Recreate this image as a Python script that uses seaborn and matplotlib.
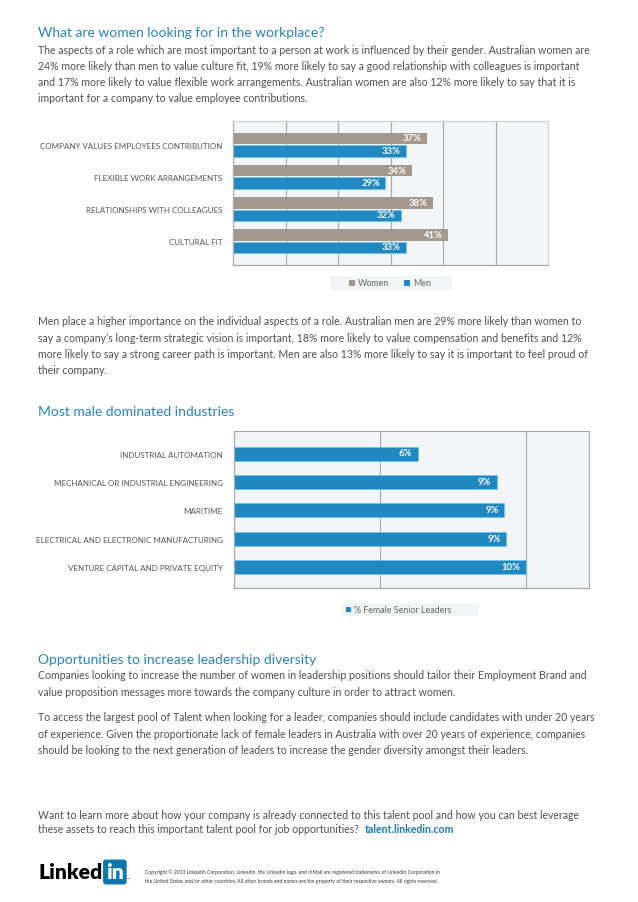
import matplotlib
matplotlib.use("Agg")
from matplotlib import pyplot as plt
from matplotlib.patches import Rectangle
import pandas as pd
import seaborn as sns

# chart 1: what women / men value at work
aspects = ["COMPANY VALUES EMPLOYEES CONTRIBUTION", "FLEXIBLE WORK ARRANGEMENTS",
           "RELATIONSHIPS WITH COLLEAGUES", "CULTURAL FIT"]
women = [37, 34, 38, 41]
men = [33, 29, 32, 33]
genders = ["Women", "Men"]

# chart 2: female senior leaders by industry
industries = ["INDUSTRIAL AUTOMATION", "MECHANICAL OR INDUSTRIAL ENGINEERING", "MARITIME",
              "ELECTRICAL AND ELECTRONIC MANUFACTURING", "VENTURE CAPITAL AND PRIVATE EQUITY"]
female_leaders = [6.3, 9.0, 9.25, 9.33, 10.0]
female_labels = ["6%", "9%", "9%", "9%", "10%"]

W, H = 638, 903
BLUE_TITLE = "#2a82b6"
TEXT = "#505050"
WOMEN_C = "#a2988e"
MEN_C = "#2188c2"
PANEL = "#f3f4f6"
GRID = "#a8a8a8"

sns.set_theme(style="white")
plt.rcParams["font.family"] = ["Lato", "DejaVu Sans"]

fig = plt.figure(figsize=(W / 100, H / 100), dpi=100)
fig.patch.set_facecolor("white")


def fx(x):
    return x / W


def fy(y):
    return 1 - y / H


def txt(x, y, s, size=7.6, color=TEXT, **kw):
    return fig.text(fx(x), fy(y), s, fontsize=size, color=color, va="center", **kw)


def para(x, y0, lines, step=16.3):
    for i, line in enumerate(lines):
        txt(x, y0 + i * step, line)


def axes_px(left, top, right, bottom):
    return fig.add_axes([fx(left), fy(bottom), (right - left) / W, (bottom - top) / H])


def style_panel(ax, xmax, ticks, top_c):
    ax.set_facecolor(PANEL)
    ax.set_xlim(0, xmax)
    ax.set_xticks(ticks)
    ax.set_xticklabels([])
    ax.xaxis.grid(True, color=GRID, lw=0.8)
    ax.yaxis.grid(False)
    ax.set_axisbelow(True)
    ax.set_xlabel("")
    ax.set_ylabel("")
    ax.tick_params(axis="y", length=0, pad=8, labelsize=5.8, labelcolor="#555555")
    ax.tick_params(axis="x", length=0)
    for side in ["left", "bottom"]:
        ax.spines[side].set_color(GRID)
        ax.spines[side].set_linewidth(0.9)
    for side in ["top", "right"]:
        ax.spines[side].set_color(top_c)
        ax.spines[side].set_linewidth(0.8)


def label_bars(ax, labels, dx=-4):
    for patch, lab in zip(ax.patches, labels):
        ax.annotate(lab, (patch.get_width(), patch.get_y() + patch.get_height() / 2),
                    xytext=(dx, 0.5), textcoords="offset points", ha="right", va="center",
                    color="white", fontsize=6.8, fontweight="bold")


def legend_box(x0, x1, y0, y1, items):
    fig.add_artist(Rectangle((fx(x0), fy(y1)), (x1 - x0) / W, (y1 - y0) / H,
                             transform=fig.transFigure, facecolor=PANEL, edgecolor="none"))
    yc = (y0 + y1) / 2
    for sx, color, name in items:
        fig.add_artist(Rectangle((fx(sx), fy(yc + 2.7)), 5.5 / W, 5.5 / H,
                                 transform=fig.transFigure, facecolor=color, edgecolor="none"))
        txt(sx + 9, yc, name, size=6.4, color="#666666")


# ---- section 1 text
txt(38, 33, "What are women looking for in the workplace?", size=10.0, color=BLUE_TITLE)
para(38, 50, [
    "The aspects of a role which are most important to a person at work is influenced by their gender. Australian women are",
    "24% more likely than men to value culture fit, 19% more likely to say a good relationship with colleagues is important",
    "and 17% more likely to value flexible work arrangements. Australian women are also 12% more likely to say that it is",
    "important for a company to value employee contributions.",
])

# ---- chart 1
df1 = pd.DataFrame({
    "aspect": aspects * 2,
    "value": women + men,
    "gender": [genders[0]] * 4 + [genders[1]] * 4,
})
ax1 = axes_px(233.3, 122.3, 548, 265.7)
sns.barplot(data=df1, y="aspect", x="value", hue="gender", orient="h",
            palette=[WOMEN_C, MEN_C], saturation=1, width=0.76, gap=0.08, ax=ax1,
            legend=False, edgecolor="none")
for patch in ax1.patches[4:]:
    patch.set_edgecolor("#6cc3ea")
    patch.set_linewidth(0.6)
style_panel(ax1, 60, [10, 20, 30, 40, 50], "#d2d2d2")
ax1.set_ylim(3.73, -0.73)
label_bars(ax1, [f"{v}%" for v in women + men])
legend_box(330, 452, 277.3, 290.7, [(349, WOMEN_C, "Women"), (404, MEN_C, "Men")])

# ---- section 2 text
para(38, 322, [
    "Men place a higher importance on the individual aspects of a role. Australian men are 29% more likely than women to",
    "say a company\u2019s long-term strategic vision is important, 18% more likely to value compensation and benefits and 12%",
    "more likely to say a strong career path is important. Men are also 13% more likely to say it is important to feel proud of",
    "their company.",
])
txt(38, 412, "Most male dominated industries", size=10.0, color=BLUE_TITLE)

# ---- chart 2
df2 = pd.DataFrame({"industry": industries, "share": female_leaders})
ax2 = axes_px(234, 432.3, 589.3, 589)
sns.barplot(data=df2, y="industry", x="share", orient="h", color=MEN_C, saturation=1,
            width=0.5, ax=ax2, edgecolor="#6cc3ea", linewidth=0.6)
style_panel(ax2, 12.17, [5, 10], GRID)
ax2.set_ylim(4.74, -0.79)
label_bars(ax2, female_labels)
legend_box(342, 479.3, 604, 617, [(345.5, MEN_C, "% Female Senior Leaders")])

# ---- section 3 text
txt(38, 660, "Opportunities to increase leadership diversity", size=10.0, color=BLUE_TITLE)
para(38, 676, [
    "Companies looking to increase the number of women in leadership positions should tailor their Employment Brand and",
    "value proposition messages more towards the company culture in order to attract women.",
])
para(38, 718, [
    "To access the largest pool of Talent when looking for a leader, companies should include candidates with under 20 years",
    "of experience. Given the proportionate lack of female leaders in Australia with over 20 years of experience, companies",
    "should be looking to the next generation of leaders to increase the gender diversity amongst their leaders.",
])

# ---- footer
txt(38, 816, "Want to learn more about how your company is already connected to this talent pool and how you can best leverage")
t = txt(38, 830, "these assets to reach this important talent pool for job opportunities?  ")
fig.canvas.draw()
bb = t.get_window_extent()
txt(bb.x1, 830, "talent.linkedin.com", color="#1f78ad", fontweight="bold")

txt(38, 873, "Linked", size=15.2, color="black", fontweight="heavy")
fig.text(fx(106), fy(873), "in", fontsize=15.2, color="white", fontweight="heavy", va="center",
         bbox=dict(boxstyle="round,pad=0.14,rounding_size=0.15", facecolor="#0e76a8", edgecolor="none"))
txt(127, 880, "\u2122", size=3, color="#333333")
txt(145, 872, "Copyright \u00a9 2013 LinkedIn Corporation. LinkedIn, the LinkedIn logo, and InMail are registered trademarks of LinkedIn Corporation in",
    size=3.6, color="#333333")
txt(145, 882, "the United States and/or other countries. All other brands and names are the property of their respective owners. All rights reserved.",
    size=3.6, color="#333333")

fig.savefig("out.png", dpi=100, facecolor="white")
plt.close(fig)
